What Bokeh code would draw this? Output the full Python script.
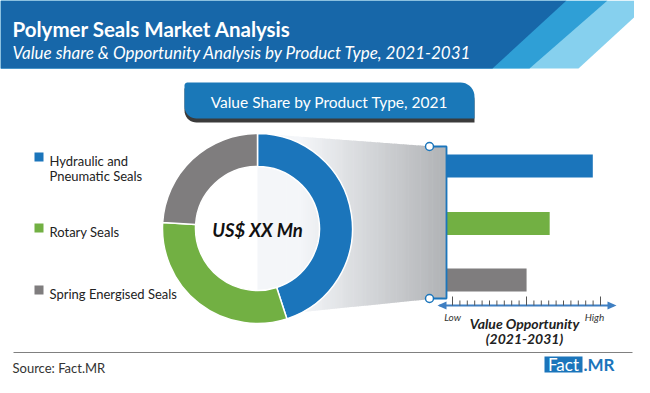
import numpy as np
from bokeh.plotting import figure
from bokeh.models import Range1d, ColumnDataSource
from bokeh.core.properties import value
from bokeh.embed import file_html
from bokeh.resources import INLINE

# ---------------- data ----------------
segments = ["Hydraulic and Pneumatic Seals", "Rotary Seals", "Spring Energised Seals"]
legend_lines = [["Hydraulic and", "Pneumatic Seals"], ["Rotary Seals"], ["Spring Energised Seals"]]
shares = [45, 31, 24]            # value share 2021 (%)
opportunity = [95, 67, 52]       # value opportunity index (Low=0 ... High=100)
colors = ["#1b75bb", "#72b043", "#7f7d7e"]
title = "Polymer Seals Market Analysis"
subtitle = "Value share & Opportunity Analysis by Product Type, 2021-2031"
tab_label = "Value Share by Product Type, 2021"
center_label = "US$ XX Mn"
axis_low, axis_high = "Low", "High"
axis_title = ["Value Opportunity", "(2021-2031)"]
source_note = "Source: Fact.MR"

FONT = "Lato"
IMG_H = 393


def Y(v):
    return IMG_H - v


W, H = 634, 377
p = figure(width=W, height=H, x_range=Range1d(0, W), y_range=Range1d(IMG_H - H, IMG_H),
           output_backend="svg", toolbar_location=None, min_border=0,
           x_axis_location=None, y_axis_location=None)
p.grid.visible = False
p.outline_line_color = None
p.background_fill_color = "white"
p.border_fill_color = "white"

# ---------------- header ----------------
for xs, col in [([0, 652, 578, 0], "#86d0ee"),
                ([0, 607, 529, 0], "#2f9fd6"),
                ([0, 566, 492, 0], "#1767a9")]:
    p.patch(xs, [Y(0), Y(0), Y(68), Y(68)], fill_color=col, line_color=None)

p.text(x=[12], y=[Y(28)], text=[title], text_font=value(FONT), text_font_style="bold",
       text_font_size="20.5px", text_color="white", text_baseline="alphabetic")
p.text(x=[12], y=[Y(52)], text=[subtitle], text_font=value(FONT), text_font_style="italic",
       text_font_size="17px", text_color="white", text_baseline="alphabetic")


# ---------------- tab ----------------
def leaf(x0, x1, y0, y1, r_tl, r_tr, r_br, r_bl, n=10):
    xs, ys = [], []
    def arc(cx, cy, r, a0, a1):
        for a in np.linspace(a0, a1, n):
            xs.append(cx + r * np.cos(a))
            ys.append(cy - r * np.sin(a))
    arc(x0 + r_tl, y0 + r_tl, r_tl, np.pi, np.pi / 2)
    arc(x1 - r_tr, y0 + r_tr, r_tr, np.pi / 2, 0)
    arc(x1 - r_br, y1 - r_br, r_br, 0, -np.pi / 2)
    arc(x0 + r_bl, y1 - r_bl, r_bl, -np.pi / 2, -np.pi)
    return xs, [Y(v) for v in ys]

sx, sy = leaf(184, 474, 86, 122, 3, 14, 0.1, 12)
p.patch(sx, sy, fill_color="#3b3b3b", line_color=None)
tx, ty = leaf(184, 474, 82, 118, 3, 14, 0.1, 12)
p.patch(tx, ty, fill_color="#1a78b8", line_color=None)
p.text(x=[329], y=[Y(101)], text=[tab_label], text_font=value(FONT), text_font_size="15.5px",
       text_color="white", text_align="center", text_baseline="middle")

# ---------------- funnel gradient ----------------
gx = np.linspace(257, 446, 80)
c0 = np.array([244, 246, 249])
c1 = np.array([176, 178, 181])


def top(x):
    return 133 + (x - 257) * (147 - 133) / (446 - 257)


def bot(x):
    return 316 + (x - 257) * (297 - 316) / (446 - 257)


for i in range(len(gx) - 1):
    a, b = gx[i], gx[i + 1] + 0.6
    t = max(0.0, (gx[i] - 300) / (446 - 300))
    c = (c0 + (c1 - c0) * t).astype(int)
    col = "#%02x%02x%02x" % tuple(c)
    p.patch([a, b, b, a], [Y(top(a)), Y(top(b)), Y(bot(b)), Y(bot(a))],
            fill_color=col, line_color=None)

# ---------------- donut ----------------
cum = np.cumsum([0] + shares) / float(sum(shares)) * 2 * np.pi
start = np.pi / 2 - cum[1:]
end = np.pi / 2 - cum[:-1]
donut = ColumnDataSource(dict(start=start, end=end, color=colors, name=segments))
p.annular_wedge(x=257, y=Y(228), inner_radius=62, outer_radius=95,
                inner_radius_units="screen", outer_radius_units="screen",
                start_angle="start", end_angle="end", fill_color="color",
                line_color="white", line_width=1.5, source=donut)
p.text(x=[257], y=[Y(229)], text=[center_label], text_font=value(FONT),
       text_font_style="bold italic", text_font_size="18.5px", text_color="#111111",
       text_align="center", text_baseline="middle")

# ---------------- legend ----------------
leg_top = [152, 223, 285]
for k, lines in enumerate(legend_lines):
    t0 = leg_top[k]
    p.quad(left=34, right=43, top=Y(t0), bottom=Y(t0 + 9), fill_color=colors[k], line_color=None)
    for j, ln in enumerate(lines):
        p.text(x=[49], y=[Y(t0 + 8.5 + 15 * j)], text=[ln], text_font=value(FONT),
               text_font_size="13px", text_color="#222222", text_baseline="alphabetic")

# ---------------- bars ----------------
x_zero, x_full = 446.0, 600.0        # pixel positions of index 0 and 100
ppu = (x_full - x_zero) / 100.0
p.extra_x_ranges = {"opp": Range1d(0 - (x_zero - 0) / ppu, 100 + (W - x_full) / ppu)}
bar_centers = [165.5, 223, 279.5]
bars = ColumnDataSource(dict(y=[Y(v) for v in bar_centers], right=opportunity, color=colors))
p.hbar(y="y", left=0, right="right", height=23, fill_color="color", line_color=None,
       source=bars, x_range_name="opp")

# bracket
BL = "#1b75bb"
p.line([429, 446, 446, 429], [Y(146), Y(146), Y(298), Y(298)], line_color=BL, line_width=1.8)
p.scatter(x=[429, 429], y=[Y(146), Y(298)], size=8, marker="circle", fill_color="white",
          line_color=BL, line_width=1.5)

# ---------------- opportunity axis ----------------
AX = "#3f7fc2"
p.line([439, 613], [Y(305), Y(305)], line_color=AX, line_width=2)
p.patch([437, 446, 446], [Y(305), Y(301), Y(309)], fill_color=AX, line_color=None)
p.patch([616, 607, 607], [Y(305), Y(301), Y(309)], fill_color=AX, line_color=None)
tick_x = np.linspace(452, 600, 21)
for i, tx_ in enumerate(tick_x):
    top_ = 296 if i % 10 == 0 else 300
    p.line([tx_, tx_], [Y(305), Y(top_)], line_color="#555555", line_width=1)
p.text(x=[452, 594], y=[Y(316), Y(316)], text=[axis_low, axis_high], text_font=value(FONT),
       text_font_style="italic", text_font_size="10px", text_color="#333333",
       text_align="center", text_baseline="middle")
p.text(x=[524, 524], y=[Y(323), Y(338)], text=axis_title, text_font=value(FONT),
       text_font_style="bold italic", text_font_size="14px", text_color="#222222",
       text_align="center", text_baseline="middle")

# ---------------- footer ----------------
p.line([13, 632], [Y(352), Y(352)], line_color="#808080", line_width=1)
p.text(x=[12], y=[Y(367)], text=[source_note], text_font=value(FONT), text_font_size="13px",
       text_color="#333333", text_baseline="middle")
p.quad(left=544, right=582, top=Y(356), bottom=Y(372), fill_color="#1b75bb", line_color=None)
p.text(x=[563], y=[Y(364)], text=["Fact"], text_font=value(FONT), text_font_size="17px",
       text_color="white", text_align="center", text_baseline="middle")
p.text(x=[583], y=[Y(364)], text=[".MR"], text_font=value(FONT), text_font_style="bold",
       text_font_size="17px", text_color="#1b75bb", text_baseline="middle")

open("out.html", "w").write(file_html(p, INLINE))
